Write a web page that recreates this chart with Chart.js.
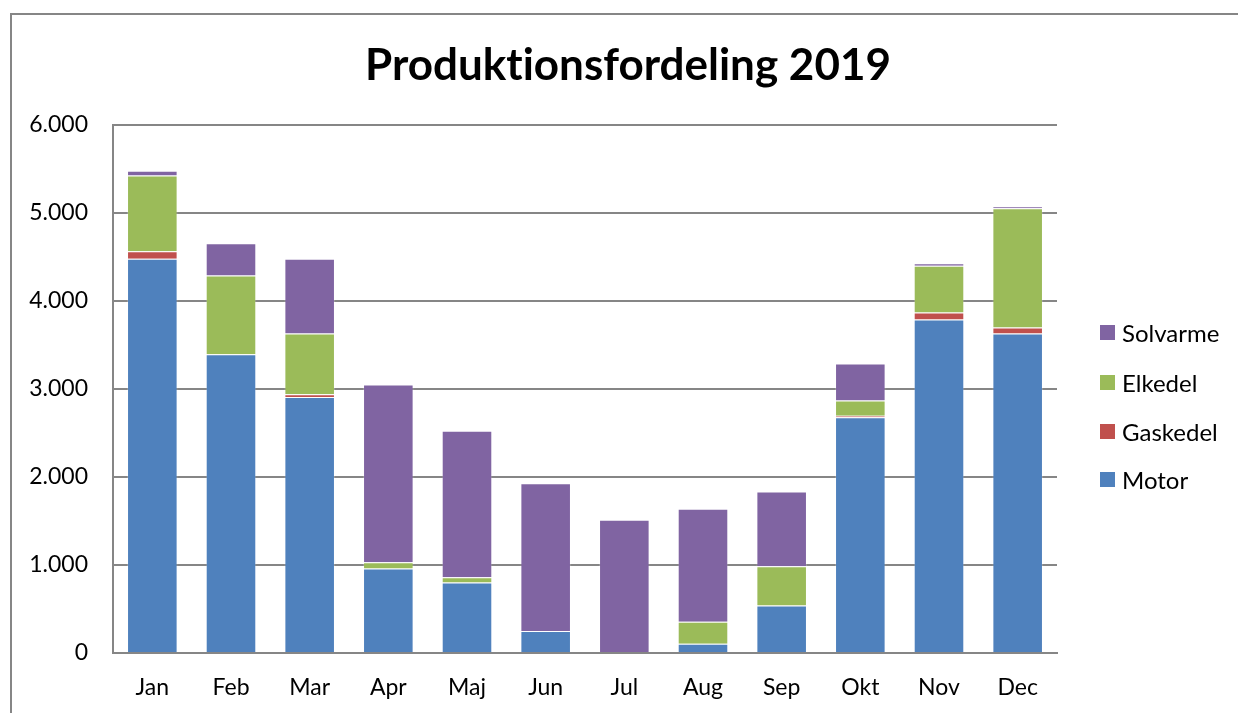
<!DOCTYPE html>
<html>
<head>
<meta charset="utf-8">
<script src="https://cdn.jsdelivr.net/npm/chart.js@4"></script>
<style>
  html, body { margin: 0; padding: 0; background: #fff; width: 1238px; height: 713px; overflow: hidden; }
  #frame { position: absolute; left: 10px; top: 13px; width: 1300px; height: 800px; border: 2px solid #868686; box-sizing: border-box; }
  #wrap { position: absolute; left: 0; top: 0; width: 1238px; height: 713px; }
  #title { position: absolute; left: 0; width: 1256px; top: 41px; text-align: center; font: bold 44px Lato, sans-serif; line-height: 1; color: #000; font-variant-ligatures: none; }
  #legend { position: absolute; left: 1100px; top: 0; font: 24px Lato, sans-serif; color: #000; }
  .item { position: absolute; left: 0; white-space: nowrap; height: 24px; line-height: 24px; }
  .box { position: absolute; left: 0; top: 4px; width: 15px; height: 15px; }
  .lbl { position: absolute; left: 22px; top: 0; }
</style>
</head>
<body>
<div id="frame"></div>
<div id="wrap"><canvas id="chartCanvas" width="1238" height="713"></canvas></div>
<div id="title">Produktionsfordeling 2019</div>
<div id="legend"></div>
<script>
// Data
const months = ['Jan', 'Feb', 'Mar', 'Apr', 'Maj', 'Jun', 'Jul', 'Aug', 'Sep', 'Okt', 'Nov', 'Dec'];
const motor     = [4480, 3395, 2910, 960, 800, 250, 0, 105, 540, 2680, 3790, 3630];
const gaskedel  = [85, 0, 30, 0, 0, 0, 0, 0, 0, 15, 80, 70];
const elkedel   = [860, 895, 690, 70, 60, 0, 0, 250, 445, 175, 530, 1355];
const solvarme  = [55, 365, 850, 2020, 1665, 1680, 1515, 1285, 850, 420, 30, 20];
const yTicks = [0, 1000, 2000, 3000, 4000, 5000, 6000];

const seriesNames = ['Motor', 'Gaskedel', 'Elkedel', 'Solvarme'];
const seriesData = [motor, gaskedel, elkedel, solvarme];
const seriesColors = ['#4F81BD', '#C0504D', '#9BBB59', '#8064A2'];

const fmt = v => String(v).replace(/\B(?=(\d{3})+(?!\d))/g, '.');

const ctx = document.getElementById('chartCanvas').getContext('2d');
const myChart = new Chart(ctx, {
  type: 'bar',
  data: {
    labels: months,
    datasets: seriesNames.map((name, i) => ({
      label: name,
      data: seriesData[i],
      backgroundColor: seriesColors[i],
      borderColor: 'rgba(255,255,255,0.2)',
      borderWidth: 1,
      categoryPercentage: 1,
      barPercentage: 0.643
    }))
  },
  options: {
    responsive: false,
    animation: false,
    layout: { padding: { left: 0, top: 125, right: 181, bottom: 0 } },
    plugins: {
      legend: { display: false },
      title: { display: false },
      tooltip: { enabled: false }
    },
    scales: {
      x: {
        stacked: true,
        grid: { display: false },
        border: { display: true, color: '#868686', width: 2 },
        ticks: { color: '#000', font: { family: 'Lato', size: 23 }, padding: 13 },
        afterFit: s => { s.height = 60; }
      },
      y: {
        stacked: true,
        min: 0,
        max: 6000,
        afterBuildTicks: s => { s.ticks = yTicks.map(v => ({ value: v })); },
        grid: { color: '#868686', lineWidth: 2, drawTicks: false },
        border: { display: true, color: '#868686', width: 2 },
        ticks: { color: '#000', font: { family: 'Lato', size: 23 }, padding: 25, callback: v => fmt(v) },
        afterFit: s => { s.width = 113; }
      }
    }
  }
});

// legend, reversed order like the original
const legend = document.getElementById('legend');
const rowY = [333, 383, 432, 480];
seriesNames.slice().reverse().forEach((name, k) => {
  const i = seriesNames.length - 1 - k;
  const it = document.createElement('div');
  it.className = 'item';
  it.style.top = (rowY[k] - 12) + 'px';
  it.innerHTML = '<span class="box" style="background:' + seriesColors[i] + '"></span><span class="lbl">' + name + '</span>';
  legend.appendChild(it);
});
</script>
</body>
</html>
